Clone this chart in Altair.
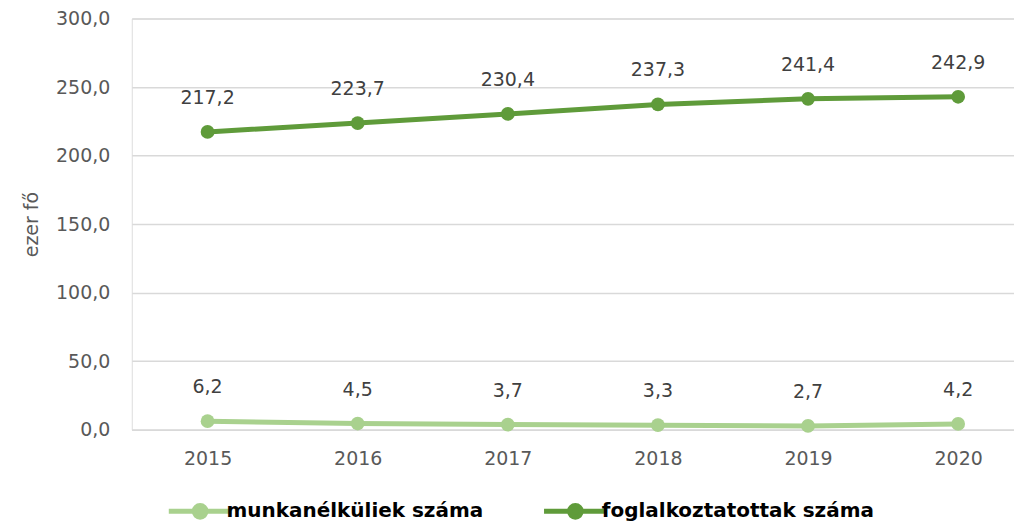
import altair as alt
import pandas as pd

years = [2015, 2016, 2017, 2018, 2019, 2020]
munkanelkuliek = [6.2, 4.5, 3.7, 3.3, 2.7, 4.2]
foglalkoztatottak = [217.2, 223.7, 230.4, 237.3, 241.4, 242.9]
series_names = ["munkanélküliek száma", "foglalkoztatottak száma"]
colors = ["#a9d18e", "#5f9b3a"]

rows = []
for y, v in zip(years, munkanelkuliek):
    rows.append({"year": y, "value": v, "series": series_names[0]})
for y, v in zip(years, foglalkoztatottak):
    rows.append({"year": y, "value": v, "series": series_names[1]})
df = pd.DataFrame(rows)

FONT = "DejaVu Sans"

x = alt.X("year:Q", title=None,
          scale=alt.Scale(domain=[2014.495, 2020.372], nice=False, zero=False),
          axis=alt.Axis(values=years, format="d", labelAngle=0, labelFontSize=19,
                        labelColor="#595959", labelFont=FONT, domain=True,
                        domainColor="#d9d9d9", domainWidth=1.5, ticks=False,
                        grid=False, labelPadding=20, labelFlush=False))
y = alt.Y("value:Q", title="ezer fő",
          scale=alt.Scale(domain=[0, 300]),
          axis=alt.Axis(values=[0, 50, 100, 150, 200, 250, 300],
                        labelExpr="replace(format(datum.value, '.1f'), '.', ',')",
                        labelFontSize=19, labelColor="#595959", labelFont=FONT,
                        titleFontSize=19, titleColor="#595959", titleFont=FONT,
                        titleFontWeight="normal", titlePadding=14,
                        domain=False, ticks=False, labelPadding=22,
                        gridColor="#d9d9d9", gridWidth=1.5))

legend_symbol = "M-1.6,0L-0.3,0M0.3,0L1.6,0M0.3,0A0.3,0.3 0 1,1 -0.3,0A0.3,0.3 0 1,1 0.3,0"

color = alt.Color("series:N",
                  scale=alt.Scale(domain=series_names, range=colors),
                  legend=alt.Legend(title=None, orient="none", direction="horizontal",
                                    legendX=46, legendY=471,
                                    labelFontSize=20, labelFontWeight="bold",
                                    labelColor="#000000", labelFont=FONT, labelLimit=0,
                                    symbolType=legend_symbol, symbolSize=1540,
                                    symbolStrokeWidth=5, columnPadding=50,
                                    labelOffset=4))

base = alt.Chart(df)

lines = base.mark_line(strokeWidth=5).encode(x=x, y=y, color=color)
points = base.mark_circle(size=190, opacity=1).encode(
    x=x, y=y,
    color=alt.Color("series:N", scale=alt.Scale(domain=series_names, range=colors), legend=None))
labels = base.transform_calculate(
    label="replace(format(datum.value, '.1f'), '.', ',')"
).mark_text(dy=-34, fontSize=19, color="#404040", font=FONT).encode(
    x=x, y=y, text="label:N")

chart = alt.layer(lines, points, labels).properties(
    width=884, height=412,
    padding={"left": 14, "top": 1, "right": 0, "bottom": 0},
).configure_view(stroke="transparent", strokeWidth=0).configure(font=FONT)

chart.save("out.html", embed_options={"renderer": "svg", "actions": False})
